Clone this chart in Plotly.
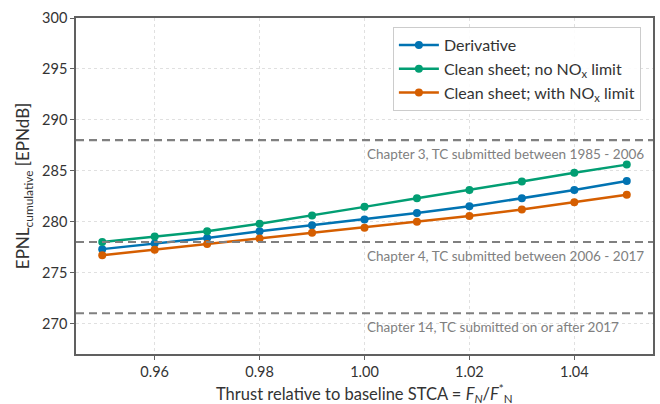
import plotly.graph_objects as go

thrust = [0.95, 0.96, 0.97, 0.98, 0.99, 1.00, 1.01, 1.02, 1.03, 1.04, 1.05]
derivative = [277.3, 277.85, 278.4, 279.05, 279.65, 280.2, 280.85, 281.5, 282.3, 283.1, 284.0]
clean_no_nox = [278.0, 278.55, 279.05, 279.8, 280.6, 281.45, 282.3, 283.1, 283.95, 284.8, 285.6]
clean_with_nox = [276.7, 277.25, 277.8, 278.35, 278.9, 279.4, 280.0, 280.55, 281.2, 281.9, 282.65]

series_names = ["Derivative", "Clean sheet; no NO<sub>x</sub> limit", "Clean sheet; with NO<sub>x</sub> limit"]
series_values = [derivative, clean_no_nox, clean_with_nox]
series_colors = ["#0173B2", "#029E73", "#D55E00"]

limit_levels = [288, 278, 271]
limit_labels = [
    "Chapter 3, TC submitted between 1985 - 2006",
    "Chapter 4, TC submitted between 2006 - 2017",
    "Chapter 14, TC submitted on or after 2017",
]
label_x = 1.00

x_ticks = [0.96, 0.98, 1.00, 1.02, 1.04]
y_ticks = [270, 275, 280, 285, 290, 295, 300]

x_title = "Thrust relative to baseline STCA = <i>F<sub>N</sub></i>/<i>F</i><sup>*</sup><sub>N</sub>"
y_title = "EPNL<sub>cumulative</sub> [EPNdB]"

FONT = "Lato"
fig = go.Figure()

for lvl in limit_levels:
    fig.add_shape(type="line", xref="paper", x0=0, x1=1, yref="y", y0=lvl, y1=lvl,
                  line=dict(color="#808080", width=2.2, dash="8px,5px"), layer="above")

for name, vals, col in zip(series_names, series_values, series_colors):
    fig.add_trace(go.Scatter(x=thrust, y=vals, mode="lines+markers", name=name,
                             line=dict(color=col, width=2.5),
                             marker=dict(color=col, size=8)))

for lvl, txt in zip(limit_levels, limit_labels):
    fig.add_annotation(x=label_x, y=lvl, xref="x", yref="y", text=txt, showarrow=False,
                       xanchor="left", yanchor="top", yshift=-4,
                       font=dict(family=FONT, size=13.5, color="#808080"))

fig.add_annotation(x=0.5, y=-0.118, xref="paper", yref="paper", text=x_title, showarrow=False,
                   xanchor="center", yanchor="middle",
                   font=dict(family=FONT, size=16.5, color="#333333"))

axis_common = dict(showline=True, linecolor="#606060", linewidth=1.5, mirror=True,
                   ticks="outside", tickcolor="#606060", ticklen=4,
                   showgrid=True, gridcolor="#e0e0e0", griddash="dot", gridwidth=1,
                   zeroline=False, tickfont=dict(family=FONT, size=14.5, color="#333333"))

fig.update_layout(
    width=660, height=404,
    margin=dict(l=76, r=5, t=18, b=50),
    plot_bgcolor="white", paper_bgcolor="white",
    font=dict(family=FONT, size=14, color="#333333"),
    xaxis=dict(range=[0.945, 1.055], tickvals=x_ticks, tickformat=".2f", **axis_common),
    yaxis=dict(range=[267, 300], tickvals=y_ticks,
               title=dict(text=y_title, font=dict(family=FONT, size=17), standoff=8),
               **axis_common),
    legend=dict(x=0.979, y=0.973, xanchor="right", yanchor="top",
                bgcolor="rgba(255,255,255,0.9)", bordercolor="#cccccc", borderwidth=1,
                font=dict(family=FONT, size=16, color="#333333"),
                itemwidth=40, tracegroupgap=2),
    showlegend=True,
)

fig.write_html("out.html", config={"displayModeBar": False},
               post_script="document.body.style.margin='0';document.body.style.overflow='hidden';")
